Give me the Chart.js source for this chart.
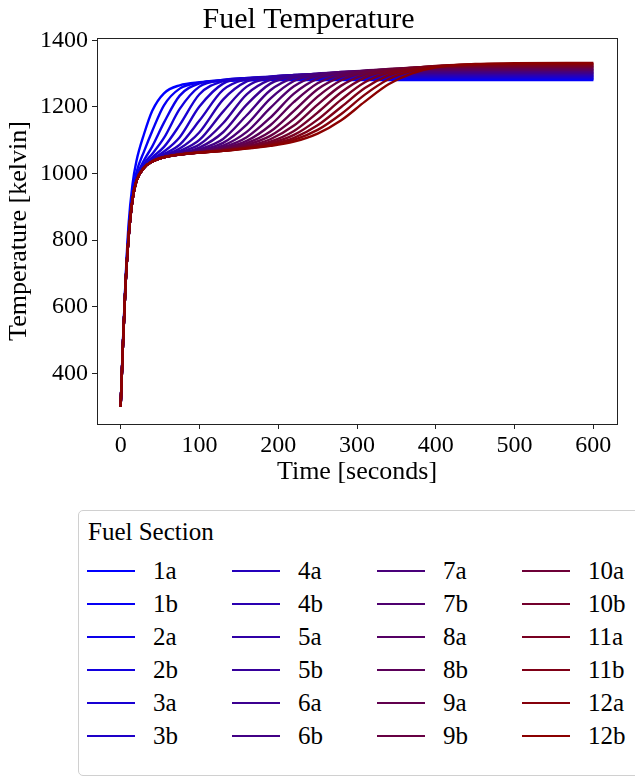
<!DOCTYPE html>
<html>
<head>
<meta charset="utf-8">
<title>Fuel Temperature</title>
<script src="https://cdn.jsdelivr.net/npm/chart.js@4.4.1/dist/chart.umd.min.js"></script>
<style>
  html, body { margin: 0; padding: 0; background: #fff; overflow: hidden; }
  body { width: 635px; height: 779px; position: relative; font-family: 'Liberation Serif', serif; color: #000; }
  #chart { position: absolute; left: 0; top: 0; }
  #legend { position: absolute; left: 78px; top: 510px; width: 600px; height: 266px;
            border: 1px solid #d0d0d0; border-radius: 5px; box-sizing: border-box; }
  #legend .title { position: absolute; left: 9px; top: 6px; font-size: 25px; line-height: 30px; white-space: nowrap; }
  .item { position: absolute; width: 140px; height: 30px; font-size: 25px; line-height: 30px; }
  .item .swatch { position: absolute; left: 0; top: 14px; width: 48px; height: 2px; }
  .item .lbl { position: absolute; left: 66px; top: 0; }
</style>
</head>
<body>
<canvas id="chart" width="635" height="500"></canvas>
<div id="legend"><div class="title">Fuel Section</div></div>
<script>
// time samples (seconds)
const times = [0, 3, 6, 10, 15, 20, 30, 40, 55, 75, 100, 130, 160, 190, 220, 250, 280, 310, 340, 370, 400, 450, 500, 600];

// fuel temperature per section (kelvin)
const fuel1a  = [300, 500, 670, 845, 967, 1037, 1121, 1188, 1241, 1265, 1274, 1278, 1280, 1281, 1281, 1281, 1281, 1281, 1281, 1281, 1281, 1281, 1281, 1281];
const fuel1b  = [300, 498, 665, 822, 940, 1003, 1068, 1127, 1205, 1255, 1273, 1279, 1282, 1283, 1283, 1283, 1283, 1283, 1283, 1283, 1283, 1283, 1283, 1283];
const fuel2a  = [300, 493, 660, 813, 930, 989, 1041, 1081, 1153, 1234, 1271, 1281, 1284, 1285, 1285, 1285, 1285, 1285, 1285, 1285, 1285, 1285, 1285, 1285];
const fuel2b  = [300, 491, 657, 810, 925, 984, 1030, 1059, 1107, 1194, 1261, 1281, 1286, 1287, 1288, 1288, 1288, 1288, 1288, 1288, 1288, 1288, 1288, 1288];
const fuel3a  = [300, 490, 656, 808, 923, 981, 1024, 1048, 1080, 1146, 1238, 1278, 1287, 1289, 1290, 1290, 1290, 1290, 1290, 1290, 1290, 1290, 1290, 1290];
const fuel3b  = [300, 490, 655, 806, 922, 979, 1022, 1043, 1066, 1109, 1201, 1270, 1286, 1290, 1291, 1292, 1292, 1292, 1292, 1292, 1292, 1292, 1292, 1292];
const fuel4a  = [300, 490, 655, 805, 921, 978, 1020, 1040, 1059, 1087, 1159, 1251, 1284, 1291, 1293, 1294, 1294, 1294, 1294, 1294, 1294, 1294, 1294, 1294];
const fuel4b  = [300, 490, 655, 805, 920, 977, 1019, 1038, 1055, 1075, 1124, 1222, 1277, 1291, 1295, 1296, 1297, 1297, 1297, 1297, 1297, 1297, 1297, 1297];
const fuel5a  = [300, 490, 655, 805, 920, 977, 1018, 1037, 1053, 1068, 1101, 1186, 1261, 1289, 1296, 1298, 1299, 1299, 1299, 1299, 1299, 1299, 1299, 1299];
const fuel5b  = [300, 490, 655, 805, 920, 977, 1018, 1036, 1051, 1064, 1087, 1151, 1238, 1282, 1296, 1299, 1300, 1301, 1301, 1301, 1301, 1301, 1301, 1301];
const fuel6a  = [300, 490, 655, 805, 920, 977, 1018, 1036, 1050, 1061, 1078, 1124, 1207, 1270, 1293, 1300, 1302, 1303, 1303, 1303, 1303, 1303, 1303, 1303];
const fuel6b  = [300, 490, 655, 805, 920, 977, 1018, 1036, 1049, 1060, 1073, 1104, 1175, 1250, 1288, 1300, 1303, 1304, 1305, 1305, 1305, 1305, 1305, 1305];
const fuel7a  = [300, 490, 655, 805, 920, 977, 1018, 1036, 1049, 1059, 1070, 1092, 1147, 1225, 1278, 1298, 1305, 1307, 1308, 1308, 1308, 1308, 1308, 1308];
const fuel7b  = [300, 490, 655, 805, 920, 977, 1018, 1036, 1049, 1058, 1068, 1084, 1125, 1197, 1262, 1294, 1305, 1308, 1309, 1310, 1310, 1310, 1310, 1310];
const fuel8a  = [300, 490, 655, 805, 920, 977, 1018, 1036, 1049, 1057, 1066, 1079, 1109, 1168, 1240, 1285, 1303, 1309, 1311, 1312, 1312, 1312, 1312, 1312];
const fuel8b  = [300, 490, 655, 805, 920, 977, 1018, 1036, 1049, 1057, 1065, 1076, 1098, 1145, 1215, 1271, 1298, 1309, 1312, 1314, 1314, 1314, 1314, 1314];
const fuel9a  = [300, 490, 655, 805, 920, 977, 1018, 1036, 1049, 1057, 1064, 1074, 1091, 1126, 1188, 1253, 1291, 1307, 1313, 1315, 1316, 1316, 1316, 1316];
const fuel9b  = [300, 490, 655, 805, 920, 977, 1018, 1036, 1049, 1057, 1063, 1072, 1086, 1113, 1164, 1231, 1280, 1304, 1314, 1317, 1319, 1319, 1319, 1319];
const fuel10a = [300, 490, 655, 805, 920, 977, 1018, 1036, 1049, 1057, 1063, 1071, 1082, 1103, 1144, 1207, 1264, 1297, 1312, 1318, 1320, 1321, 1321, 1321];
const fuel10b = [300, 490, 655, 805, 920, 977, 1018, 1036, 1049, 1057, 1063, 1070, 1080, 1096, 1128, 1183, 1244, 1288, 1309, 1318, 1321, 1323, 1323, 1323];
const fuel11a = [300, 490, 655, 805, 920, 977, 1018, 1036, 1049, 1057, 1063, 1069, 1078, 1091, 1116, 1162, 1222, 1274, 1303, 1316, 1322, 1324, 1325, 1325];
const fuel11b = [300, 490, 655, 805, 920, 977, 1018, 1036, 1049, 1057, 1063, 1068, 1077, 1087, 1107, 1145, 1200, 1257, 1295, 1314, 1323, 1327, 1328, 1328];
const fuel12a = [300, 490, 655, 805, 920, 977, 1018, 1036, 1049, 1057, 1063, 1068, 1076, 1085, 1101, 1131, 1179, 1237, 1283, 1309, 1321, 1328, 1330, 1330];
const fuel12b = [300, 490, 655, 805, 920, 977, 1018, 1036, 1049, 1057, 1063, 1068, 1075, 1083, 1096, 1120, 1160, 1216, 1268, 1301, 1319, 1329, 1331, 1332];

const sectionLabels = ['1a', '1b', '2a', '2b', '3a', '3b', '4a', '4b', '5a', '5b', '6a', '6b',
                       '7a', '7b', '8a', '8b', '9a', '9b', '10a', '10b', '11a', '11b', '12a', '12b'];
const sectionTemps = [fuel1a, fuel1b, fuel2a, fuel2b, fuel3a, fuel3b, fuel4a, fuel4b, fuel5a, fuel5b, fuel6a, fuel6b,
                      fuel7a, fuel7b, fuel8a, fuel8b, fuel9a, fuel9b, fuel10a, fuel10b, fuel11a, fuel11b, fuel12a, fuel12b];

const xTicks = [0, 100, 200, 300, 400, 500, 600];
const yTicks = [400, 600, 800, 1000, 1200, 1400];

// blue -> dark red along the sections
function sectionColor(i, n) {
  const f = i / (n - 1);
  return 'rgb(' + Math.round(139 * f) + ',0,' + Math.round(255 * (1 - f)) + ')';
}

const n = sectionLabels.length;
const colors = sectionLabels.map((_, i) => sectionColor(i, n));

const datasets = sectionTemps.map((temps, i) => ({
  label: sectionLabels[i],
  data: temps.map((v, j) => ({ x: times[j], y: v })),
  borderColor: colors[i],
  backgroundColor: colors[i],
  borderWidth: 2.4,
  pointRadius: 0,
  fill: false,
  cubicInterpolationMode: 'monotone',
  order: n - 1 - i // later sections drawn on top
}));

// box around the plot area, like the axes spines
const frame = {
  id: 'frame',
  afterDraw(chart) {
    const { ctx, chartArea: a } = chart;
    ctx.save();
    ctx.strokeStyle = '#222';
    ctx.lineWidth = 1;
    ctx.strokeRect(Math.round(a.left) + 0.5, Math.round(a.top) + 0.5,
                   Math.round(a.right - a.left), Math.round(a.bottom - a.top));
    ctx.restore();
  }
};

Chart.defaults.font.family = "'Liberation Serif', serif";
Chart.defaults.color = '#000';

new Chart(document.getElementById('chart').getContext('2d'), {
  type: 'line',
  data: { datasets },
  options: {
    responsive: false,
    devicePixelRatio: 1,
    animation: false,
    layout: { padding: { left: 0, right: 18, top: 0, bottom: 0 } },
    plugins: {
      legend: { display: false },
      tooltip: { enabled: false },
      title: {
        display: true,
        text: 'Fuel Temperature',
        color: '#000',
        font: { size: 30, weight: 'normal' },
        padding: { top: 2, bottom: 0 }
      }
    },
    scales: {
      x: {
        type: 'linear',
        min: -30,
        max: 630,
        afterBuildTicks: s => { s.ticks = xTicks.map(v => ({ value: v })); },
        afterFit: s => { s.height = 76; },
        grid: { drawOnChartArea: false, drawTicks: true, tickLength: 5, color: '#222' },
        border: { display: false },
        ticks: { font: { size: 24 }, padding: 2, maxRotation: 0, color: '#000', callback: v => String(v) },
        title: { display: true, text: 'Time [seconds]', font: { size: 26 }, color: '#000', padding: { top: 0, bottom: 12 } }
      },
      y: {
        type: 'linear',
        min: 248,
        max: 1407,
        afterBuildTicks: s => { s.ticks = yTicks.map(v => ({ value: v })); },
        afterFit: s => { s.width = 97; },
        grid: { drawOnChartArea: false, drawTicks: true, tickLength: 5, color: '#222' },
        border: { display: false },
        ticks: { font: { size: 24 }, padding: 4, color: '#000', callback: v => String(v) },
        title: { display: true, text: 'Temperature [kelvin]', font: { size: 26 }, color: '#000', padding: { top: 4, bottom: 0 } }
      }
    }
  },
  plugins: [frame]
});

// legend: 4 columns, filled column by column
const legend = document.getElementById('legend');
sectionLabels.forEach((lab, i) => {
  const col = Math.floor(i / 6), row = i % 6;
  const item = document.createElement('div');
  item.className = 'item';
  item.style.left = (8 + col * 145) + 'px';
  item.style.top = (45 + row * 33) + 'px';
  item.innerHTML = '<span class="swatch" style="background:' + colors[i] + '"></span><span class="lbl">' + lab + '</span>';
  legend.appendChild(item);
});
</script>
</body>
</html>
